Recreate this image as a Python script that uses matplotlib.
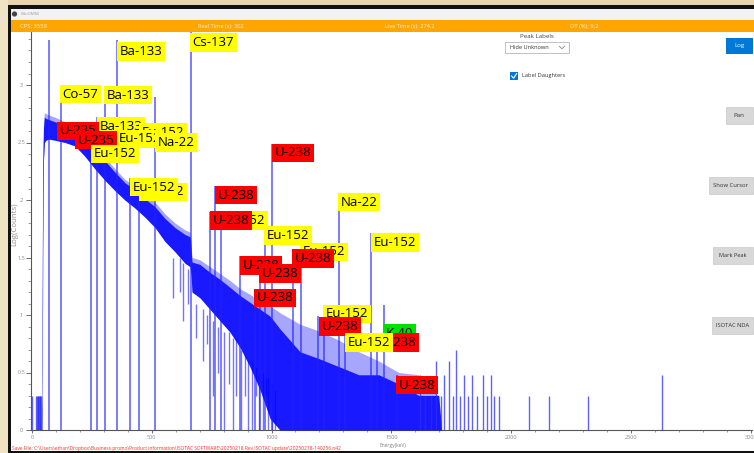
import matplotlib
matplotlib.use('Agg')
import matplotlib.pyplot as plt
from matplotlib.patches import Rectangle, Circle
from matplotlib.transforms import offset_copy
from matplotlib.ticker import MultipleLocator

plt.rcParams['font.family'] = ['Open Sans', 'DejaVu Sans']

# ---------------- data ----------------
x_ticks = [0, 500, 1000, 1500, 2000, 2500, 3000]
x_tick_labels = ['0', '500', '1000', '1500', '2000', '2500', '3000']
y_ticks = [0, 0.5, 1, 1.5, 2, 2.5, 3]
y_tick_labels = ['0', '0.5', '1', '1.5', '2', '2.5', '3']

# continuum envelope (keV, log counts)
env_energy = [38, 41, 43, 45, 48, 52, 58, 70, 96, 138, 180, 221, 263, 305, 347, 388, 430, 472,
              514, 555, 597, 639, 660, 664, 668, 701, 743, 785, 827, 868, 910, 952, 994, 1035,
              1077, 1119, 1199, 1282, 1365, 1448, 1531, 1615, 1656, 1698, 1710]
env_low = [0, 0, 0.5, 1.6, 2.35, 2.5, 2.52, 2.53, 2.52, 2.50, 2.47, 2.38, 2.27, 2.17, 2.08, 2.00,
           1.93, 1.85, 1.76, 1.64, 1.55, 1.45, 1.42, 1.35, 1.20, 1.15, 1.05, 0.95, 0.85, 0.72,
           0.55, 0.35, 0.10, 0, 0, 0, 0, 0, 0, 0, 0, 0, 0, 0, 0]
env_core = [0, 0.3, 1.4, 2.3, 2.63, 2.72, 2.71, 2.70, 2.68, 2.65, 2.61, 2.54, 2.44, 2.34, 2.24,
            2.15, 2.09, 2.01, 1.94, 1.84, 1.76, 1.70, 1.68, 1.58, 1.46, 1.44, 1.37, 1.31, 1.24,
            1.17, 1.11, 1.05, 0.99, 0.88, 0.78, 0.68, 0.62, 0.55, 0.48, 0.48, 0.40, 0.30, 0.30,
            0.30, 0]
env_high = [0, 0.3, 1.6, 2.4, 2.68, 2.76, 2.75, 2.74, 2.72, 2.68, 2.64, 2.57, 2.47, 2.37, 2.27,
            2.18, 2.12, 2.05, 1.98, 1.88, 1.80, 1.74, 1.72, 1.62, 1.50, 1.48, 1.42, 1.36, 1.30,
            1.23, 1.18, 1.12, 1.08, 1.02, 0.97, 0.92, 0.86, 0.78, 0.68, 0.60, 0.50, 0.48, 0.35,
            0.30, 0]

# peaks (keV, log counts at top)
peak_energy = [73, 119, 246, 273, 303, 353, 411, 445, 514, 662, 745, 766, 787, 870, 929, 950,
               971, 1004, 1088, 1121, 1196, 1221, 1280, 1305, 1417, 1442, 1468, 1522]
peak_height = [3.39, 3.0, 2.48, 2.72, 2.99, 3.39, 2.19, 2.15, 2.9, 3.6, 1.9, 2.12, 1.9, 1.51,
               1.23, 1.44, 1.77, 2.49, 1.57, 1.63, 0.99, 1.08, 2.06, 0.83, 1.71, 0.83, 1.09, 0.48]

# downward fluctuations below the continuum
dip_energy = [589, 618, 630, 651, 685, 714, 731, 756, 777, 802, 823, 839, 852, 873, 889, 902,
              919, 935, 948, 965, 977, 985, 1002, 1015, 1023]
dip_level = [1.15, 1.2, 0.95, 1.1, 0.8, 0.6, 0.75, 0.3, 0.5, 0.0, 0.4, 0.0, 0.3, 0.0, 0.3, 0.0,
             0.0, 0.3, 0.0, 0.0, 0.3, 0.0, 0.0, 0.0, 0.3]
dip_top = [1.5, 1.5, 1.45, 1.4, 1.1, 1.05, 1.0, 0.95, 0.9, 0.85, 0.85, 0.8, 0.8, 0.7, 0.65, 0.6,
           0.6, 0.55, 0.5, 0.5, 0.45, 0.45, 0.4, 0.35, 0.3]

# sparse single-count channels
spike_energy = [1, 17, 20, 23, 26, 29, 32, 35, 38, 1620, 1641, 1666, 1687, 1708, 1720, 1741,
                1758, 1770, 1787, 1804, 1820, 1837, 1858, 1883, 1900, 1916, 1929, 1950, 2075,
                2159, 2322, 2630]
spike_level = [0.3, 0.3, 0.3, 0.3, 0.3, 0.3, 0.3, 0.3, 0.3, 0.48, 0.3, 0.3, 0.6, 0.3, 0.48, 0.6,
               0.3, 0.7, 0.3, 0.48, 0.3, 0.48, 0.3, 0.48, 0.3, 0.48, 0.3, 0.3, 0.3, 0.3, 0.3, 0.48]

YELLOW, RED, GREEN = '#ffff00', '#ff0000', '#00e000'
label_text = ['Ba-133', 'Cs-137', 'Co-57', 'Ba-133', 'Ba-133', 'Eu-152', 'Eu-152', 'Na-22',
              'U-235', 'U-235', 'Eu-152', 'Eu-152', 'Eu-152', 'U-238', 'Eu-152', 'U-238',
              'U-238', 'Eu-152', 'Eu-152', 'U-238', 'U-238', 'U-238', 'U-238', 'Na-22',
              'Eu-152', 'Eu-152', 'U-238', 'K-40', 'U-238', 'Eu-152', 'U-238']
label_energy = [355, 660, 117, 301, 271, 447, 351, 514, 104, 180, 246, 447, 409, 764, 785, 743,
                1002, 969, 1119, 868, 1086, 948, 927, 1278, 1415, 1215, 1198, 1466, 1441, 1307,
                1520]
label_height = [3.37, 3.45, 3.0, 2.99, 2.72, 2.67, 2.61, 2.58, 2.68, 2.6, 2.48, 2.15, 2.19, 2.12,
                1.9, 1.9, 2.49, 1.77, 1.63, 1.51, 1.57, 1.44, 1.23, 2.06, 1.71, 1.09, 0.98,
                0.92, 0.84, 0.84, 0.47]
label_color = [YELLOW, YELLOW, YELLOW, YELLOW, YELLOW, YELLOW, YELLOW, YELLOW, RED, RED, YELLOW,
               YELLOW, YELLOW, RED, YELLOW, RED, RED, YELLOW, YELLOW, RED, RED, RED, RED, YELLOW,
               YELLOW, YELLOW, RED, GREEN, RED, YELLOW, RED]

status_text = ['CPS: 3559', 'Real Time (s): 302', 'Live Time (s): 274.2', 'DT (%): 9.2']
save_text = ('Save File: C:\\Users\\ethan\\Dropbox\\Business promo\\Product information\\'
             'ISOTAC SOFTWARE\\20250218 Rev ISOTAC update\\20250218-140256.n42')

# ---------------- figure ----------------
W, H = 754, 453
fig = plt.figure(figsize=(W / 100, H / 100), dpi=100)
fig.patch.set_facecolor('white')

AX_L, AX_R, AX_T, AX_B = 31, 752, 32, 430
PX_PER_UNIT = 115
ax = fig.add_axes([AX_L / W, 1 - AX_B / H, (AX_R - AX_L) / W, (AX_B - AX_T) / H])
ax.set_xlim(-4.2, 3006)
ax.set_ylim(0, (AX_B - AX_T) / PX_PER_UNIT)
ax.patch.set_alpha(0)

BLUE = '#0000ff'
ax.vlines(dip_energy, dip_level, dip_top, color=BLUE, lw=1.0, alpha=0.55, zorder=1)
ax.fill_between(env_energy, env_low, env_high, color=BLUE, alpha=0.35, lw=0, zorder=2)
ax.fill_between(env_energy, env_low, env_core, color=BLUE, alpha=0.85, lw=0, zorder=3)
ax.vlines(peak_energy, 0, peak_height, color='#2020ff', lw=1.1, alpha=0.75, zorder=4)
ax.vlines(spike_energy, 0, spike_level, color='#2b2bff', lw=1.0, alpha=0.75, zorder=4)

ax.set_xticks(x_ticks)
ax.set_xticklabels(x_tick_labels)
ax.set_yticks(y_ticks)
ax.set_yticklabels(y_tick_labels)
ax.xaxis.set_minor_locator(MultipleLocator(100))
ax.yaxis.set_minor_locator(MultipleLocator(0.1))
for s in ['top', 'right']:
    ax.spines[s].set_visible(False)
for s in ['left', 'bottom']:
    ax.spines[s].set_color('#555555')
    ax.spines[s].set_linewidth(0.8)
ax.tick_params(axis='x', which='major', length=2.4, width=0.6, color='#555555', pad=1.2,
               labelsize=4, labelcolor='#888888')
ax.tick_params(axis='x', which='minor', length=1.6, width=0.5, color='#777777')
ax.tick_params(axis='y', which='major', length=3.6, width=0.6, color='#555555', pad=3.4,
               labelsize=4, labelcolor='#888888')
ax.tick_params(axis='y', which='minor', length=2.0, width=0.5, color='#777777')
for lab in ax.get_yticklabels():
    lab.set_ha('center')

LABEL_FS = 9.5
PAD = 0.2
pad_px = PAD * LABEL_FS * 100 / 72
for i, (txt, e, l, c) in enumerate(zip(label_text, label_energy, label_height, label_color)):
    tr = offset_copy(ax.transData, fig=fig, x=pad_px, y=-pad_px, units='dots')
    ax.text(e, l, txt, transform=tr, ha='left', va='top', fontsize=LABEL_FS, color='black',
            zorder=10 + i, clip_on=False,
            bbox=dict(boxstyle='square,pad=%g' % PAD, fc=c, ec='none'))

# ---------------- window chrome overlay ----------------
ov = fig.add_axes([0, 0, 1, 1], zorder=20)
ov.set_xlim(0, W)
ov.set_ylim(H, 0)
ov.axis('off')
ov.patch.set_alpha(0)

def rect(x0, y0, x1, y1, fc, ec='none', lw=0.6):
    ov.add_patch(Rectangle((x0, y0), x1 - x0, y1 - y0, fc=fc, ec=ec, lw=lw))

rect(0, 0, W, 5, '#e8d4ae')
rect(0, 0, 8, H, '#efe3c4')
rect(8, 5, W, 9, '#111111')
rect(8, 5, 11, H, '#111111')
rect(8, 451, W, H, '#111111')
rect(11, 9, W, 20, '#f2f2f2')
rect(11, 20, W, 32, '#ffa500')
ov.add_patch(Circle((14.5, 14), 2.6, fc='#444444', ec='none'))

fig.canvas.draw()
renderer = fig.canvas.get_renderer()

def fit(x0, x1, y, s, color, size=5, rot=0, **kw):
    t = ov.text(x0, y, s, ha='left', va='center', color=color, fontsize=size, rotation=rot, **kw)
    bb = t.get_window_extent(renderer)
    span = bb.height if rot else bb.width
    t.set_fontsize(size * (x1 - x0) / span)
    return t

fit(21, 40, 14, 'WinOMNI', '#a0a0a0')
fit(20, 47, 26.5, status_text[0], '#fff4dc')
fit(198, 244, 26.5, status_text[1], '#fff4dc')
fit(385, 435, 26.5, status_text[2], '#fff4dc')
fit(570, 599, 26.5, status_text[3], '#fff4dc')

# controls
fit(520, 554, 37, 'Peak Labels', '#404040')
rect(505, 42, 569, 53, 'white', ec='#b5b5b5')
fit(510, 550, 47.5, 'Hide Unknown', '#333333')
ov.plot([559.5, 562, 564.5], [46.3, 48.8, 46.3], color='#888888', lw=0.6)
rect(510, 72, 518, 80, '#0078d7')
ov.plot([511.6, 513.6, 516.6], [76.0, 78.2, 73.6], color='white', lw=0.8)
fit(522, 565, 76, 'Label Daughters', '#333333')

rect(726, 38, 753, 54, '#0078d7')
fit(734, 744, 46, 'Log', 'white')
buttons = [(726, 107, 124, 'Pan', 733, 744), (709, 177, 194, 'Show Cursor', 713, 748),
           (713, 247, 264, 'Mark Peak', 719, 747), (712, 317, 334, 'ISOTAC NDA', 716, 749)]
for bx, by0, by1, bt, tx0, tx1 in buttons:
    rect(bx, by0, 753, by1, '#d8d8d8', ec='#cfcfcf')
    fit(tx0, tx1, (by0 + by1) / 2, bt, '#333333')

fit(380, 407, 446, 'Energy(keV)', '#808080')
fit(12, 343, 448.5, save_text, '#ff2a2a')
t = fit(202, 246, 15, 'Log(Counts)', '#909090', rot=90)
t.set_position((15, 224))
t.set_ha('center')

fig.savefig('out.png', dpi=100)
